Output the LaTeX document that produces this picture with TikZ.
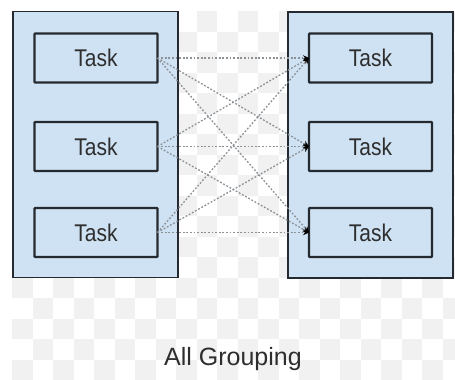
\documentclass[tikz,border=0pt]{standalone}
\usepackage{fontspec}
\setmainfont{Liberation Sans}
\usetikzlibrary{arrows.meta}
\definecolor{boxfill}{HTML}{CFE2F3}
\definecolor{boxline}{HTML}{252A30}
\definecolor{textgray}{HTML}{2E2E2E}
\definecolor{linkgray}{HTML}{8C9196}
\definecolor{checker}{HTML}{F1F1F1}
\tikzset{
  group/.style={draw=boxline, fill=boxfill, line width=1.8pt, inner sep=0pt, outer sep=0pt,
    minimum width=165pt, minimum height=266pt},
  taskbox/.style={draw=boxline, fill=boxfill, line width=2.4pt, rounded corners=0.8pt,
    inner sep=0pt, outer sep=0pt, minimum width=123pt, minimum height=49pt,
    text=textgray, font=\fontsize{21}{21}\selectfont},
  link/.style={draw=linkgray, line width=1.3pt, dash pattern=on 1.8pt off 1.8pt,
    -{Stealth[length=6pt, width=5.5pt, black]}},
  caption/.style={text=textgray, font=\fontsize{25}{25}\selectfont}
}
\newcommand{\tasklabel}{\scalebox{1}[1.15]{Task}}
\begin{document}
\begin{tikzpicture}[x=1pt, y=-1pt]
  \useasboundingbox (0,0) rectangle (455,380);
  \fill[white] (0,0) rectangle (455,380);
  % faint checkerboard backdrop
  \foreach \i in {0,...,21} {
    \foreach \j in {0,...,17} {
      \pgfmathtruncatemacro{\parity}{mod(\i+\j,2)}
      \ifnum\parity=1
        \fill[checker] ({12+\i*20.5},{11+\j*20.5}) rectangle +(20.5,20.5);
      \fi
    }
  }
  \fill[white] (0,0) rectangle (12,380);
  \fill[white] (0,0) rectangle (455,11);

  % the two groups of tasks
  \node[group] (LG) at (95.5,144.5) {};
  \node[group] (RG) at (370.5,145) {};

  \node[taskbox] (L1) at (96,58)    {\tasklabel};
  \node[taskbox] (L2) at (96,146.5) {\tasklabel};
  \node[taskbox] (L3) at (96,232.5) {\tasklabel};

  \node[taskbox] (R1) at (370.5,58)    {\tasklabel};
  \node[taskbox] (R2) at (370.5,146.5) {\tasklabel};
  \node[taskbox] (R3) at (370.5,232.5) {\tasklabel};

  % every task on the left feeds every task on the right
  \foreach \a in {1,2,3} {
    \foreach \b in {1,2,3} {
      \draw[link] (L\a.east) -- (R\b.west);
    }
  }

  \node[caption, anchor=base] (cap) at (233,365.5) {All Grouping};
\end{tikzpicture}
\end{document}
